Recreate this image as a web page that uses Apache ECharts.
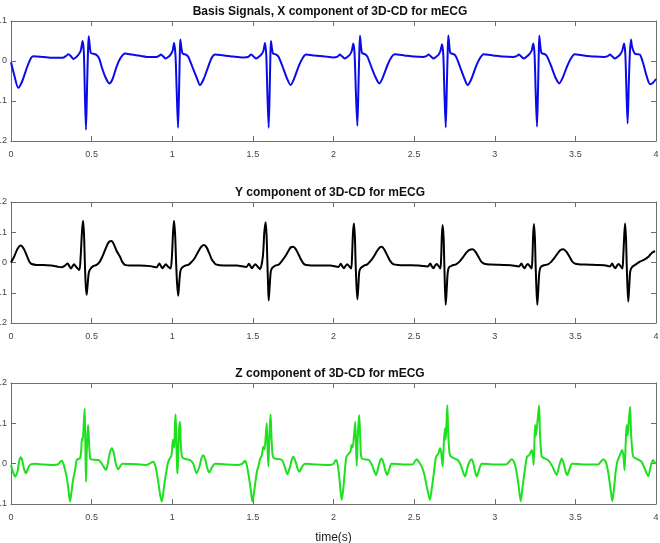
<!DOCTYPE html>
<html>
<head>
<meta charset="utf-8">
<script src="https://cdn.jsdelivr.net/npm/echarts@6/dist/echarts.min.js"></script>
<style>
  html, body { margin: 0; padding: 0; background: #fff; }
  #chart { width: 660px; height: 543px; }
</style>
</head>
<body>
<div id="chart"></div>
<script>
// 标题
var titles = ['Basis Signals, X component of 3D-CD for mECG', 'Y component of 3D-CD for mECG', 'Z component of 3D-CD for mECG']
var xTicks = [0, 0.5, 1, 1.5, 2, 2.5, 3, 3.5, 4]
var yRanges = [[-0.2, 0.1], [-0.2, 0.2], [-0.1, 0.2]]

// X 分量
var xT = [0, 0.02, 0.045, 0.07, 0.1, 0.125, 0.14, 0.2, 0.26, 0.32, 0.34, 0.356, 0.372, 0.387, 0.402, 0.417, 0.432, 0.444, 0.452, 0.458, 0.465, 0.472, 0.478, 0.482, 0.488, 0.495, 0.51, 0.531, 0.548, 0.562, 0.585, 0.61, 0.63, 0.655, 0.68, 0.707, 0.75, 0.8, 0.86, 0.903, 0.918, 0.93, 0.945, 0.959, 0.975, 0.99, 1.003, 1.011, 1.02, 1.028, 1.036, 1.043, 1.047, 1.05, 1.056, 1.064, 1.085, 1.1, 1.125, 1.15, 1.172, 1.195, 1.225, 1.245, 1.265, 1.32, 1.38, 1.44, 1.47, 1.49, 1.505, 1.52, 1.535, 1.55, 1.565, 1.575, 1.583, 1.59, 1.598, 1.605, 1.609, 1.612, 1.618, 1.625, 1.645, 1.66, 1.685, 1.71, 1.734, 1.755, 1.785, 1.81, 1.829, 1.88, 1.95, 2.0, 2.025, 2.04, 2.055, 2.07, 2.085, 2.1, 2.113, 2.123, 2.131, 2.139, 2.148, 2.155, 2.16, 2.164, 2.17, 2.177, 2.195, 2.21, 2.235, 2.26, 2.284, 2.305, 2.335, 2.36, 2.38, 2.44, 2.5, 2.555, 2.575, 2.59, 2.605, 2.62, 2.635, 2.65, 2.663, 2.673, 2.681, 2.688, 2.696, 2.703, 2.708, 2.712, 2.718, 2.725, 2.745, 2.76, 2.785, 2.81, 2.832, 2.855, 2.885, 2.91, 2.93, 2.99, 3.05, 3.115, 3.135, 3.15, 3.165, 3.18, 3.195, 3.21, 3.228, 3.239, 3.247, 3.254, 3.262, 3.269, 3.273, 3.276, 3.282, 3.29, 3.31, 3.325, 3.35, 3.375, 3.4, 3.42, 3.45, 3.475, 3.495, 3.55, 3.62, 3.68, 3.7, 3.715, 3.73, 3.745, 3.76, 3.775, 3.79, 3.802, 3.81, 3.817, 3.824, 3.831, 3.838, 3.845, 3.852, 3.87, 3.9, 3.92, 3.94, 3.963, 3.98, 4.0]
var xV = [-0.003, -0.035, -0.067, -0.05, -0.015, 0.008, 0.012, 0.01, 0.008, 0.008, 0.012, 0.017, 0.012, 0.005, 0.009, 0.015, 0.025, 0.05, 0.02, -0.08, -0.172, -0.06, 0.03, 0.062, 0.04, 0.02, 0.018, 0.015, 0.005, -0.014, -0.04, -0.056, -0.045, -0.014, 0.008, 0.019, 0.016, 0.013, 0.01, 0.01, 0.013, 0.016, 0.011, 0.006, 0.01, 0.016, 0.027, 0.045, 0.015, -0.08, -0.167, -0.06, 0.02, 0.054, 0.035, 0.019, 0.016, 0.01, -0.015, -0.04, -0.06, -0.045, -0.012, 0.008, 0.016, 0.014, 0.011, 0.009, 0.01, 0.016, 0.011, 0.006, 0.01, 0.015, 0.025, 0.045, 0.015, -0.08, -0.167, -0.06, 0.02, 0.05, 0.033, 0.019, 0.016, 0.01, -0.015, -0.042, -0.06, -0.045, -0.012, 0.008, 0.016, 0.014, 0.011, 0.009, 0.011, 0.016, 0.011, 0.006, 0.01, 0.015, 0.025, 0.044, 0.015, -0.08, -0.162, -0.06, 0.02, 0.063, 0.04, 0.02, 0.017, 0.011, -0.015, -0.04, -0.056, -0.042, -0.01, 0.01, 0.017, 0.014, 0.011, 0.01, 0.012, 0.016, 0.011, 0.006, 0.01, 0.015, 0.025, 0.042, 0.015, -0.08, -0.166, -0.06, 0.02, 0.064, 0.04, 0.02, 0.017, 0.011, -0.015, -0.042, -0.06, -0.045, -0.012, 0.008, 0.017, 0.014, 0.011, 0.01, 0.012, 0.016, 0.011, 0.006, 0.01, 0.015, 0.025, 0.044, 0.015, -0.08, -0.164, -0.06, 0.02, 0.063, 0.04, 0.02, 0.017, 0.011, -0.013, -0.04, -0.056, -0.043, -0.012, 0.008, 0.017, 0.014, 0.011, 0.01, 0.012, 0.016, 0.011, 0.006, 0.01, 0.015, 0.025, 0.044, 0.015, -0.08, -0.156, -0.06, 0.02, 0.054, 0.035, 0.018, 0.016, -0.005, -0.035, -0.058, -0.055, -0.045]

// Y 分量
var yT = [0, 0.02, 0.04, 0.06, 0.08, 0.1, 0.115, 0.128, 0.16, 0.2, 0.25, 0.29, 0.314, 0.335, 0.351, 0.362, 0.372, 0.382, 0.391, 0.405, 0.424, 0.432, 0.44, 0.447, 0.453, 0.458, 0.463, 0.469, 0.475, 0.482, 0.49, 0.51, 0.531, 0.55, 0.567, 0.583, 0.6, 0.612, 0.624, 0.638, 0.655, 0.676, 0.69, 0.707, 0.75, 0.8, 0.865, 0.903, 0.92, 0.93, 0.94, 0.95, 0.96, 0.975, 0.99, 0.998, 1.005, 1.011, 1.018, 1.024, 1.03, 1.037, 1.043, 1.05, 1.058, 1.08, 1.1, 1.12, 1.14, 1.16, 1.18, 1.197, 1.213, 1.23, 1.245, 1.255, 1.27, 1.32, 1.4, 1.46, 1.475, 1.486, 1.495, 1.505, 1.515, 1.53, 1.545, 1.562, 1.571, 1.579, 1.585, 1.59, 1.594, 1.598, 1.604, 1.611, 1.62, 1.64, 1.66, 1.68, 1.7, 1.72, 1.735, 1.751, 1.765, 1.785, 1.8, 1.815, 1.83, 1.9, 1.98, 2.03, 2.045, 2.055, 2.065, 2.075, 2.085, 2.1, 2.11, 2.115, 2.121, 2.127, 2.133, 2.137, 2.142, 2.148, 2.154, 2.16, 2.17, 2.19, 2.21, 2.23, 2.25, 2.27, 2.285, 2.299, 2.315, 2.335, 2.35, 2.37, 2.4, 2.46, 2.53, 2.585, 2.6, 2.61, 2.62, 2.63, 2.64, 2.655, 2.663, 2.668, 2.672, 2.677, 2.683, 2.687, 2.691, 2.696, 2.702, 2.708, 2.716, 2.735, 2.76, 2.78, 2.8, 2.82, 2.84, 2.863, 2.88, 2.9, 2.915, 2.935, 2.98, 3.05, 3.1, 3.15, 3.165, 3.175, 3.185, 3.195, 3.205, 3.22, 3.229, 3.234, 3.238, 3.243, 3.249, 3.253, 3.258, 3.264, 3.27, 3.276, 3.284, 3.3, 3.33, 3.35, 3.37, 3.39, 3.405, 3.425, 3.445, 3.465, 3.48, 3.5, 3.56, 3.63, 3.68, 3.715, 3.728, 3.738, 3.748, 3.758, 3.768, 3.783, 3.792, 3.797, 3.803, 3.808, 3.814, 3.818, 3.823, 3.828, 3.834, 3.84, 3.85, 3.87, 3.9, 3.93, 3.955, 3.975, 3.994]
var yV = [0, 0.02, 0.045, 0.056, 0.045, 0.02, 0.002, -0.005, -0.008, -0.008, -0.01, -0.014, -0.016, -0.01, -0.003, -0.012, -0.02, -0.012, -0.006, -0.015, -0.025, 0.02, 0.1, 0.138, 0.09, 0, -0.07, -0.107, -0.075, -0.035, -0.023, -0.012, -0.008, 0.002, 0.02, 0.041, 0.062, 0.07, 0.071, 0.06, 0.038, 0.019, 0.002, -0.008, -0.01, -0.01, -0.012, -0.016, -0.003, -0.012, -0.019, -0.012, -0.006, -0.014, -0.02, 0.02, 0.1, 0.138, 0.09, 0, -0.07, -0.11, -0.07, -0.03, -0.019, -0.01, -0.008, 0.002, 0.015, 0.035, 0.052, 0.058, 0.05, 0.03, 0.01, 0.003, -0.006, -0.01, -0.01, -0.015, -0.004, -0.013, -0.019, -0.011, -0.006, -0.014, -0.022, 0.02, 0.1, 0.133, 0.09, 0, -0.07, -0.126, -0.08, -0.03, -0.018, -0.01, -0.007, 0.005, 0.02, 0.038, 0.05, 0.052, 0.045, 0.025, 0.008, -0.004, -0.008, -0.01, -0.01, -0.015, -0.004, -0.013, -0.019, -0.011, -0.006, -0.014, -0.02, 0.02, 0.1, 0.129, 0.08, 0, -0.07, -0.122, -0.08, -0.03, -0.018, -0.01, -0.006, 0.005, 0.02, 0.038, 0.049, 0.052, 0.043, 0.022, 0.006, -0.005, -0.008, -0.009, -0.01, -0.013, -0.003, -0.013, -0.019, -0.01, -0.005, -0.014, -0.02, 0.02, 0.09, 0.124, 0.08, 0, -0.08, -0.14, -0.09, -0.035, -0.016, -0.01, -0.006, 0.002, 0.015, 0.03, 0.041, 0.044, 0.036, 0.018, 0.004, -0.004, -0.007, -0.008, -0.009, -0.013, -0.003, -0.013, -0.019, -0.01, -0.005, -0.014, -0.02, 0.02, 0.09, 0.127, 0.08, 0, -0.08, -0.14, -0.09, -0.035, -0.016, -0.01, -0.006, 0.002, 0.015, 0.03, 0.04, 0.0435, 0.035, 0.018, 0.004, -0.004, -0.007, -0.008, -0.009, -0.013, -0.003, -0.013, -0.019, -0.01, -0.005, -0.014, -0.02, 0.02, 0.09, 0.129, 0.08, 0, -0.08, -0.129, -0.08, -0.03, -0.016, -0.008, 0.003, 0.01, 0.02, 0.032, 0.038]

// Z 分量
var zT = [0, 0.012, 0.025, 0.04, 0.05, 0.06, 0.07, 0.08, 0.093, 0.105, 0.12, 0.15, 0.2, 0.25, 0.29, 0.305, 0.314, 0.325, 0.335, 0.345, 0.355, 0.366, 0.375, 0.385, 0.397, 0.405, 0.411, 0.42, 0.428, 0.435, 0.44, 0.445, 0.451, 0.457, 0.461, 0.465, 0.469, 0.474, 0.478, 0.482, 0.487, 0.493, 0.51, 0.541, 0.56, 0.575, 0.589, 0.6, 0.612, 0.626, 0.638, 0.65, 0.665, 0.675, 0.69, 0.75, 0.84, 0.86, 0.875, 0.883, 0.895, 0.905, 0.915, 0.925, 0.935, 0.945, 0.955, 0.965, 0.975, 0.985, 0.995, 1.003, 1.007, 1.013, 1.017, 1.021, 1.026, 1.03, 1.033, 1.038, 1.043, 1.048, 1.053, 1.06, 1.07, 1.11, 1.13, 1.151, 1.17, 1.18, 1.192, 1.205, 1.218, 1.23, 1.245, 1.265, 1.33, 1.41, 1.435, 1.451, 1.46, 1.47, 1.48, 1.49, 1.497, 1.506, 1.516, 1.525, 1.535, 1.545, 1.555, 1.565, 1.572, 1.58, 1.586, 1.591, 1.596, 1.601, 1.606, 1.61, 1.616, 1.623, 1.633, 1.68, 1.695, 1.714, 1.73, 1.74, 1.751, 1.765, 1.777, 1.788, 1.805, 1.823, 1.9, 1.98, 2.0, 2.015, 2.025, 2.035, 2.043, 2.051, 2.06, 2.07, 2.08, 2.095, 2.105, 2.112, 2.119, 2.126, 2.135, 2.14, 2.144, 2.15, 2.155, 2.16, 2.167, 2.175, 2.22, 2.24, 2.264, 2.28, 2.29, 2.299, 2.31, 2.322, 2.334, 2.347, 2.36, 2.43, 2.49, 2.505, 2.516, 2.53, 2.55, 2.565, 2.58, 2.598, 2.61, 2.62, 2.636, 2.65, 2.66, 2.667, 2.677, 2.684, 2.691, 2.696, 2.701, 2.706, 2.712, 2.72, 2.73, 2.77, 2.79, 2.816, 2.83, 2.845, 2.857, 2.868, 2.878, 2.888, 2.905, 2.92, 3.0, 3.07, 3.09, 3.105, 3.12, 3.135, 3.148, 3.161, 3.172, 3.185, 3.2, 3.215, 3.23, 3.237, 3.241, 3.246, 3.25, 3.256, 3.264, 3.275, 3.281, 3.29, 3.3, 3.33, 3.355, 3.384, 3.4, 3.415, 3.428, 3.44, 3.45, 3.465, 3.48, 3.56, 3.64, 3.66, 3.673, 3.69, 3.705, 3.717, 3.729, 3.74, 3.75, 3.76, 3.775, 3.79, 3.798, 3.805, 3.812, 3.818, 3.825, 3.832, 3.839, 3.846, 3.855, 3.86, 3.89, 3.91, 3.93, 3.952, 3.965, 3.981, 3.99, 4.0]
var zV = [-0.003, -0.02, -0.032, -0.02, 0.005, 0.016, 0.008, -0.012, -0.024, -0.012, -0.002, 0, -0.002, -0.003, -0.002, 0.004, 0.007, 0, -0.015, -0.032, -0.06, -0.094, -0.07, -0.04, -0.016, 0.005, 0.011, 0.012, 0.013, 0.03, 0.063, 0.058, 0.1, 0.137, 0.05, -0.045, 0.02, 0.07, 0.096, 0.07, 0.03, 0.011, 0.01, 0.009, 0.002, -0.008, -0.016, 0, 0.025, 0.038, 0.025, 0, -0.014, -0.008, 0, -0.001, -0.003, 0, 0.004, 0.005, -0.005, -0.025, -0.05, -0.078, -0.094, -0.07, -0.04, -0.016, 0.005, 0.013, 0.02, 0.055, 0.059, 0.04, 0.1, 0.122, 0.05, -0.01, -0.024, 0.04, 0.09, 0.104, 0.05, 0.018, 0.013, 0.009, 0, -0.024, -0.005, 0.012, 0.021, 0.01, -0.012, -0.022, -0.01, 0, -0.002, -0.003, 0, 0.007, 0, -0.02, -0.045, -0.075, -0.094, -0.075, -0.045, -0.02, -0.005, 0.012, 0.02, 0.042, 0.035, 0.07, 0.1, 0.04, -0.007, 0.05, 0.1, 0.122, 0.06, 0.02, 0.013, 0.009, -0.005, -0.026, -0.008, 0.008, 0.017, 0.005, -0.012, -0.02, -0.008, 0, -0.002, -0.003, 0, 0.009, 0, -0.03, -0.065, -0.09, -0.065, -0.02, 0.017, 0.025, 0.03, 0.046, 0.04, 0.065, 0.104, 0.04, -0.006, 0.06, 0.1, 0.12, 0.05, 0.013, 0.009, -0.005, -0.028, -0.005, 0.008, 0.013, 0.002, -0.018, -0.028, -0.012, 0, -0.002, -0.002, 0.006, 0.011, 0.004, -0.01, -0.03, -0.06, -0.09, -0.06, -0.03, 0.017, 0.025, 0.038, 0.03, -0.007, 0.05, 0.088, 0.06, 0.1, 0.145, 0.07, 0.025, 0.017, 0.009, -0.005, -0.032, -0.01, 0.006, 0.011, 0, -0.02, -0.032, -0.012, 0, -0.002, -0.002, 0.005, 0.011, 0.004, -0.02, -0.055, -0.093, -0.06, -0.02, 0.017, 0.022, 0.034, 0.02, -0.003, 0.05, 0.096, 0.07, 0.1, 0.145, 0.07, 0.02, 0.015, 0.009, -0.005, -0.028, -0.005, 0.013, 0, -0.02, -0.028, -0.012, 0, -0.002, -0.002, 0.006, 0.011, 0.003, -0.025, -0.06, -0.093, -0.06, -0.02, 0.005, 0.02, 0.034, 0.02, -0.016, 0.05, 0.096, 0.07, 0.11, 0.141, 0.07, 0.025, 0.017, 0.01, 0.005, -0.012, -0.031, -0.01, 0.009, 0.004, 0]

var colors = ['#0b0bea', '#000000', '#1fe01f']
var font = '"Liberation Sans Narrow", "Liberation Sans", Arial, sans-serif'
var grids = [
  { left: 11, right: 4, top: 21, height: 120 },
  { left: 11, right: 4, top: 202, height: 121 },
  { left: 11, right: 4, top: 383, height: 121 }
]
grids.forEach(function (g) {
  g.containLabel = false
  g.outerBoundsMode = 'none'
})
var titleTops = [1, 182, 363]

function pairs (t, v) {
  return t.map(function (x, i) { return [x, v[i]] })
}
var seriesData = [pairs(xT, xV), pairs(yT, yV), pairs(zT, zV)]

var lineCol = '#6e6e6e'
var option = {
  backgroundColor: '#fff',
  animation: false,
  title: [],
  grid: grids,
  xAxis: [],
  yAxis: [],
  series: []
}

for (var i = 0; i < 3; i++) {
  option.title.push({
    text: titles[i],
    left: 'center',
    top: titleTops[i],
    textStyle: { fontFamily: font, fontSize: 12, fontWeight: 'bold', color: '#111' }
  })
  // 底部 x 轴
  option.xAxis.push({
    type: 'value',
    gridIndex: i,
    min: xTicks[0],
    max: xTicks[xTicks.length - 1],
    interval: 0.5,
    axisLine: { show: true, onZero: false, lineStyle: { color: lineCol, width: 1 } },
    axisTick: { show: true, inside: true, length: 5, lineStyle: { color: lineCol } },
    axisLabel: { color: '#444', fontFamily: font, fontSize: 9, margin: 9 },
    splitLine: { show: false },
    name: i === 2 ? 'time(s)' : '',
    nameLocation: 'middle',
    nameGap: 28,
    nameTextStyle: { fontFamily: font, fontSize: 12, color: '#222' }
  })
  // 顶部 x 轴 (只画刻度)
  option.xAxis.push({
    type: 'value',
    gridIndex: i,
    position: 'top',
    min: xTicks[0],
    max: xTicks[xTicks.length - 1],
    interval: 0.5,
    axisLine: { show: true, onZero: false, lineStyle: { color: lineCol, width: 1 } },
    axisTick: { show: true, inside: true, length: 5, lineStyle: { color: lineCol } },
    axisLabel: { show: false },
    splitLine: { show: false }
  })
  option.yAxis.push({
    type: 'value',
    gridIndex: i,
    min: yRanges[i][0],
    max: yRanges[i][1],
    interval: 0.1,
    axisLine: { show: true, onZero: false, lineStyle: { color: lineCol, width: 1 } },
    axisTick: { show: true, inside: true, length: 5, lineStyle: { color: lineCol } },
    axisLabel: {
      color: '#444',
      fontFamily: font,
      fontSize: 9,
      margin: 4,
      formatter: function (v) { return +v.toFixed(1) + '' }
    },
    splitLine: { show: false }
  })
  option.yAxis.push({
    type: 'value',
    gridIndex: i,
    position: 'right',
    min: yRanges[i][0],
    max: yRanges[i][1],
    interval: 0.1,
    axisLine: { show: true, onZero: false, lineStyle: { color: lineCol, width: 1 } },
    axisTick: { show: true, inside: true, length: 5, lineStyle: { color: lineCol } },
    axisLabel: { show: false },
    splitLine: { show: false }
  })
  option.series.push({
    type: 'line',
    xAxisIndex: i * 2,
    yAxisIndex: i * 2,
    data: seriesData[i],
    showSymbol: false,
    smooth: 0.25,
    lineStyle: { color: colors[i], width: 2 }
  })
}

var myChart = echarts.init(document.getElementById('chart'))
myChart.setOption(option)
</script>
</body>
</html>
